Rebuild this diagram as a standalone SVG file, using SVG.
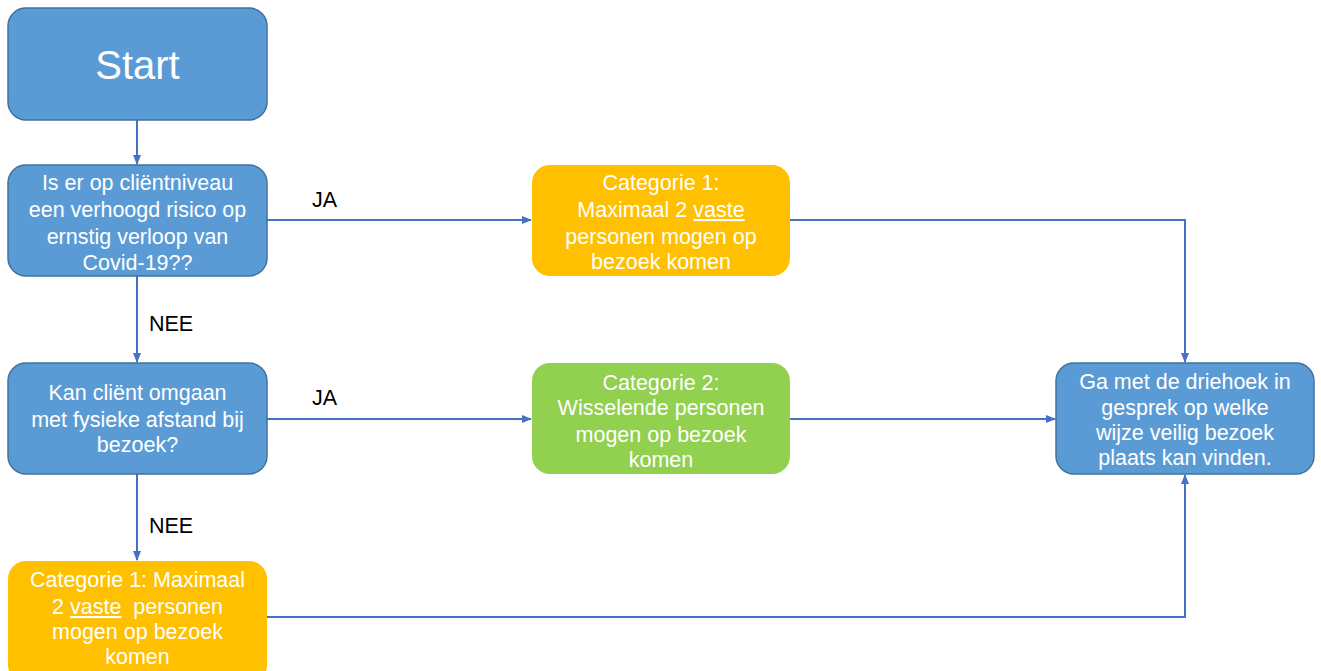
<svg xmlns="http://www.w3.org/2000/svg" width="1321" height="671" viewBox="0 0 1321 671">
<style>
.blue{fill:#5B9BD5;stroke:#41719C;stroke-width:1.5}
.orange{fill:#FFC000}
.green{fill:#92D050}
.t{font-family:"Liberation Sans",Arial,sans-serif;font-size:21.5px;fill:#fff;text-anchor:middle}
.lbl{font-family:"Liberation Sans",Arial,sans-serif;font-size:21.5px;fill:#000}
.u{text-decoration:underline}
.c{fill:none;stroke:#4472C4;stroke-width:2;marker-end:url(#ah)}
</style>
<defs>
<marker id="ah" markerWidth="10" markerHeight="10" refX="9" refY="5" orient="auto" markerUnits="userSpaceOnUse">
<path d="M0,1 L10,5 L0,9 Z" fill="#4472C4"/>
</marker>
</defs>
<rect width="1321" height="671" fill="#fff"/>
<g id="connectors">
<path class="c" d="M137,120 V164"/>
<path class="c" d="M267,220 H531"/>
<path class="c" d="M137,276 V362"/>
<path class="c" d="M267,419 H531"/>
<path class="c" d="M137,474 V560"/>
<path class="c" d="M790,220 H1185 V362"/>
<path class="c" d="M790,419 H1055"/>
<path class="c" d="M267,617 H1185 V475"/>
</g>
<g id="labels">
<text class="lbl" x="312" y="207">JA</text>
<text class="lbl" x="312" y="405">JA</text>
<text class="lbl" x="149" y="331">NEE</text>
<text class="lbl" x="149" y="533">NEE</text>
</g>
<g id="start">
<rect class="blue" x="8" y="8" width="259" height="112" rx="18"/>
<text class="t" x="137.5" y="79" style="font-size:40px">Start</text>
</g>
<g id="q1">
<rect class="blue" x="8" y="165" width="259" height="111" rx="18"/>
<text class="t" x="137.5" y="190">Is er op cliëntniveau</text>
<text class="t" x="137.5" y="217">een verhoogd risico op</text>
<text class="t" x="137.5" y="244">ernstig verloop van</text>
<text class="t" x="137.5" y="270">Covid-19??</text>
</g>
<g id="cat1a">
<rect class="orange" x="532" y="165" width="258" height="111" rx="18"/>
<text class="t" x="661" y="190">Categorie 1:</text>
<text class="t" x="661" y="217">Maximaal 2 <tspan class="u">vaste</tspan></text>
<text class="t" x="661" y="244">personen mogen op</text>
<text class="t" x="661" y="269">bezoek komen</text>
</g>
<g id="q2">
<rect class="blue" x="8" y="363" width="259" height="111" rx="18"/>
<text class="t" x="137.5" y="400">Kan cliënt omgaan</text>
<text class="t" x="137.5" y="427">met fysieke afstand bij</text>
<text class="t" x="137.5" y="452">bezoek?</text>
</g>
<g id="cat2">
<rect class="green" x="532" y="363" width="258" height="111" rx="18"/>
<text class="t" x="661" y="390">Categorie 2:</text>
<text class="t" x="661" y="415">Wisselende personen</text>
<text class="t" x="661" y="442">mogen op bezoek</text>
<text class="t" x="661" y="467">komen</text>
</g>
<g id="final">
<rect class="blue" x="1056" y="363" width="258" height="111" rx="18"/>
<text class="t" x="1185" y="389">Ga met de driehoek in</text>
<text class="t" x="1185" y="415">gesprek op welke</text>
<text class="t" x="1185" y="440">wijze veilig bezoek</text>
<text class="t" x="1185" y="465">plaats kan vinden.</text>
</g>
<g id="cat1b">
<rect class="orange" x="8" y="561" width="259" height="122" rx="18"/>
<text class="t" x="137.5" y="587">Categorie 1: Maximaal</text>
<text class="t" x="137.5" y="614" xml:space="preserve">2 <tspan class="u">vaste</tspan>  personen</text>
<text class="t" x="137.5" y="639">mogen op bezoek</text>
<text class="t" x="137.5" y="664">komen</text>
</g>
</svg>
